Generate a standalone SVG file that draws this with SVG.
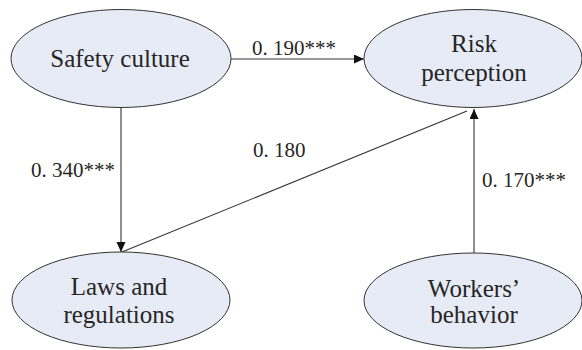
<svg xmlns="http://www.w3.org/2000/svg" width="582" height="350" viewBox="0 0 582 350">
  <style>
    .node ellipse { fill: #e6ebf5; stroke: #333; stroke-width: 1; }
    .node text { font-size: 25px; fill: #262626; text-anchor: middle; }
    .edge { stroke: #333; stroke-width: 1.1; fill: none; }
    .label { font-size: 21px; fill: #262626; }
  </style>
  <defs>
    <marker id="arrow" markerUnits="userSpaceOnUse" markerWidth="11" markerHeight="10" refX="10" refY="4.5" orient="auto">
      <path d="M0,0 L10,4.5 L0,9 z" fill="#111"/>
    </marker>
  </defs>

  <!-- connectors with their path coefficients -->
  <g id="connectors">
    <line class="edge" x1="231" y1="59" x2="364" y2="59" marker-end="url(#arrow)"/>
    <line class="edge" x1="121" y1="108" x2="121" y2="252" marker-end="url(#arrow)"/>
    <line class="edge" x1="122" y1="252" x2="467" y2="111"/>
    <line class="edge" x1="474" y1="253" x2="474" y2="109" marker-end="url(#arrow)"/>
    <text class="label" font-family="Liberation Serif" x="252" y="55">0. 190***</text>
    <text class="label" font-family="Liberation Serif" x="31" y="177">0. 340***</text>
    <text class="label" font-family="Liberation Serif" x="253" y="157">0. 180</text>
    <text class="label" font-family="Liberation Serif" x="482" y="187">0. 170***</text>
  </g>

  <!-- nodes -->
  <g id="safety-culture" class="node">
    <ellipse cx="121" cy="58.5" rx="110" ry="49"/>
    <text font-family="Liberation Serif" x="120" y="67">Safety culture</text>
  </g>
  <g id="risk-perception" class="node">
    <ellipse cx="473" cy="58.5" rx="109" ry="49"/>
    <text font-family="Liberation Serif" x="474" y="52">Risk</text>
    <text font-family="Liberation Serif" x="474" y="81">perception</text>
  </g>
  <g id="laws-regulations" class="node">
    <ellipse cx="121" cy="300" rx="109" ry="48"/>
    <text font-family="Liberation Serif" x="119" y="295">Laws and</text>
    <text font-family="Liberation Serif" x="119" y="323">regulations</text>
  </g>
  <g id="workers-behavior" class="node">
    <ellipse cx="473" cy="300.5" rx="109" ry="47.5"/>
    <text font-family="Liberation Serif" x="474" y="297">Workers’</text>
    <text font-family="Liberation Serif" x="474" y="323">behavior</text>
  </g>
</svg>
